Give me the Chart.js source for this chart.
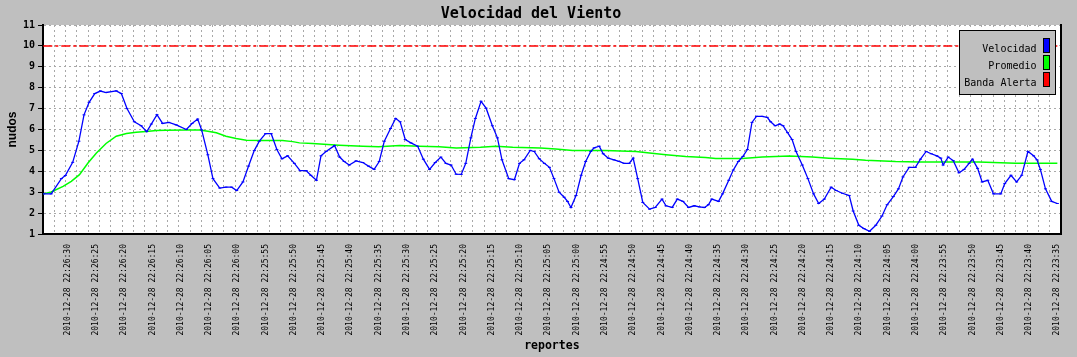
<!DOCTYPE html>
<html>
<head>
<meta charset="utf-8">
<script src="https://cdn.jsdelivr.net/npm/chart.js@4.4.1/dist/chart.umd.min.js"></script>
<style>
  html, body { margin: 0; padding: 0; background: #bfbfbf; }
  canvas { display: block; }
</style>
</head>
<body>
<canvas id="c" width="1077" height="357"></canvas>
<script>
// ---- data ----
const chartTitle = 'Velocidad del Viento';
const yTitle = 'nudos';
const xTitle = 'reportes';
const seriesNames = ['Velocidad', 'Promedio', 'Banda Alerta'];

// tick labels (report times) and their offsets in seconds from the first label
const tickLabels = [
  '2010-12-28 22:26:30','2010-12-28 22:26:25','2010-12-28 22:26:20','2010-12-28 22:26:15',
  '2010-12-28 22:26:10','2010-12-28 22:26:05','2010-12-28 22:26:00','2010-12-28 22:25:55',
  '2010-12-28 22:25:50','2010-12-28 22:25:45','2010-12-28 22:25:40','2010-12-28 22:25:35',
  '2010-12-28 22:25:30','2010-12-28 22:25:25','2010-12-28 22:25:20','2010-12-28 22:25:15',
  '2010-12-28 22:25:10','2010-12-28 22:25:05','2010-12-28 22:25:00','2010-12-28 22:24:55',
  '2010-12-28 22:24:50','2010-12-28 22:24:45','2010-12-28 22:24:40','2010-12-28 22:24:35',
  '2010-12-28 22:24:30','2010-12-28 22:24:25','2010-12-28 22:24:20','2010-12-28 22:24:15',
  '2010-12-28 22:24:10','2010-12-28 22:24:05','2010-12-28 22:24:00','2010-12-28 22:23:55',
  '2010-12-28 22:23:50','2010-12-28 22:23:45','2010-12-28 22:23:40','2010-12-28 22:23:35'
];
const tickSeconds = [0,5,10,15,20,25,30,35,40,45,50,55,60,65,70,75,80,85,90,95,
  100,105,110,115,120,125,130,135,140,145,150,155,160,165,170,175];

// Velocidad: elapsed seconds and knots
const velTime = [-4.3,-2.9,-1.1,-0.4,0.9,2.0,2.9,3.8,4.8,5.8,6.8,8.6,9.5,10.5,11.8,13.0,14.0,14.8,15.8,16.8,
  17.9,19.2,21.0,22.0,23.0,23.7,24.8,25.7,26.9,28.0,29.0,29.9,31.0,32.0,33.0,33.9,35.0,36.0,37.0,37.9,
  38.9,40.1,41.1,42.2,43.0,44.0,44.8,45.7,47.2,48.1,48.9,49.8,51.0,52.2,53.2,54.2,55.1,56.0,57.1,58.0,
  58.8,59.7,60.7,61.9,62.9,64.0,65.0,66.0,66.9,67.8,68.7,69.6,70.4,71.3,72.1,73.1,74.0,75.1,76.0,76.8,
  78.0,79.0,79.9,80.7,81.8,82.5,83.4,84.3,85.2,86.0,86.9,87.8,88.4,89.0,89.9,90.8,91.6,92.5,93.1,94.0,
  94.7,95.6,96.6,97.5,98.4,99.3,100.0,100.8,101.7,102.9,103.9,105.1,105.8,106.9,107.8,108.8,109.8,110.8,111.7,112.6,
  113.3,113.9,115.1,115.8,116.9,117.7,118.6,119.4,120.2,121.0,121.8,122.8,123.7,124.3,125.1,125.9,126.5,127.3,128.1,128.8,
  129.9,130.9,131.9,132.8,133.8,135.0,135.9,137.0,138.2,138.9,139.9,140.8,141.8,142.9,144.0,144.9,146.0,146.9,147.7,148.8,
  149.9,150.8,151.8,152.7,153.7,154.4,154.8,155.7,156.6,157.6,158.5,159.4,160.0,160.9,161.7,162.7,163.7,165.0,165.7,166.8,
  167.8,168.7,169.8,170.8,171.4,172.0,172.9,174.0,175.0];
const velValues = [2.92,2.92,3.65,3.8,4.43,5.44,6.7,7.3,7.72,7.84,7.77,7.85,7.72,7.0,6.37,6.18,5.9,6.26,6.71,6.29,
  6.34,6.22,6.0,6.29,6.5,5.98,4.79,3.65,3.2,3.24,3.24,3.08,3.49,4.25,4.99,5.44,5.8,5.8,5.04,4.6,
  4.74,4.38,4.03,4.03,3.81,3.57,4.74,4.95,5.23,4.68,4.47,4.3,4.5,4.42,4.25,4.09,4.47,5.44,6.05,6.53,
  6.37,5.52,5.36,5.2,4.58,4.09,4.42,4.68,4.38,4.3,3.86,3.85,4.38,5.6,6.53,7.35,7.02,6.18,5.6,4.55,
  3.65,3.6,4.38,4.55,5.0,4.95,4.6,4.38,4.19,3.65,3.0,2.76,2.56,2.27,2.84,3.81,4.47,4.95,5.12,5.2,
  4.84,4.63,4.55,4.47,4.38,4.38,4.63,3.65,2.51,2.19,2.27,2.67,2.35,2.27,2.67,2.56,2.27,2.35,2.3,2.27,
  2.4,2.67,2.56,2.92,3.57,4.06,4.47,4.71,5.04,6.34,6.63,6.63,6.58,6.37,6.18,6.26,6.18,5.85,5.52,4.95,
  4.3,3.65,2.92,2.46,2.67,3.24,3.08,2.95,2.84,2.1,1.42,1.26,1.13,1.42,1.86,2.4,2.79,3.16,3.73,4.19,
  4.19,4.58,4.95,4.84,4.74,4.63,4.3,4.68,4.51,3.93,4.09,4.38,4.58,4.14,3.49,3.57,2.92,2.92,3.41,3.81,
  3.49,3.81,4.95,4.74,4.55,4.09,3.16,2.56,2.46];

// Promedio: elapsed seconds and knots
const avgTime = [-4.3,-2.9,-0.8,0.65,2.1,3.6,5.1,6.8,8.6,10.4,12.1,13.9,15.7,17.4,21.0,23.3,24.8,26.3,28.0,29.8,
  31.6,34.5,38.0,39.8,41.0,43.3,48.0,52.2,55.0,58.7,62.2,65.7,68.7,73.0,75.7,78.7,83.6,86.3,89.3,95.0,
  100.5,102.9,105.8,109.3,112.8,114.6,119.3,122.8,127.6,131.7,134.6,138.8,141.1,146.4,150.5,161.1,167.6,175.0];
const avgValues = [2.92,3.01,3.28,3.52,3.84,4.4,4.88,5.33,5.68,5.81,5.87,5.9,5.95,5.97,5.98,5.98,5.92,5.84,5.68,5.57,
  5.49,5.47,5.47,5.42,5.36,5.33,5.25,5.2,5.17,5.23,5.2,5.17,5.12,5.15,5.2,5.15,5.12,5.07,4.99,4.99,
  4.95,4.87,4.79,4.71,4.66,4.61,4.61,4.68,4.73,4.68,4.63,4.58,4.53,4.47,4.45,4.45,4.38,4.38];

// Banda Alerta: constant alert level in knots
const alertLevel = 10;

const yMin = 1, yMax = 11;

// ---- chart ----
const MONO = "'DejaVu Sans Mono', monospace";
const GRID = '#a8a8a8';

const chartAreaBg = {
  id: 'chartAreaBg',
  beforeDraw(chart) {
    const {ctx, chartArea: a} = chart;
    ctx.save();
    ctx.fillStyle = '#ffffff';
    ctx.fillRect(a.left, a.top, a.right - a.left, a.bottom - a.top);
    ctx.restore();
  }
};

const boxLegend = {
  id: 'boxLegend',
  afterDraw(chart) {
    const {ctx, chartArea: a} = chart;
    const w = 96, h = 64;
    const x = Math.round(a.right - 4.5 - w) - 0.5;
    const y = Math.round(a.top + 5) + 0.5;
    ctx.save();
    ctx.fillStyle = '#bfbfbf';
    ctx.fillRect(x, y, w, h);
    ctx.strokeStyle = '#000';
    ctx.lineWidth = 1;
    ctx.strokeRect(x, y, w, h);
    ctx.font = '10px ' + MONO;
    ctx.textAlign = 'right';
    ctx.textBaseline = 'alphabetic';
    chart.data.datasets.forEach((ds, i) => {
      const cy = y + 15 + i * 17;
      ctx.fillStyle = '#000';
      ctx.fillText(ds.label, x + w - 19, cy + 6);
      ctx.fillStyle = ds.borderColor;
      ctx.fillRect(x + w - 12, cy - 7, 6, 14);
      ctx.strokeRect(x + w - 12, cy - 7, 6, 14);
    });
    ctx.restore();
  }
};

const xMin = -4.35, xMax = 175.6;

new Chart(document.getElementById('c'), {
  type: 'line',
  data: {
    datasets: [
      {
        label: seriesNames[0],
        data: velTime.map((t, i) => ({x: t, y: velValues[i]})),
        borderColor: '#0000ff',
        backgroundColor: '#0000ff',
        borderWidth: 1.3,
        pointStyle: 'line',
        pointRadius: 1.5,
        pointBorderWidth: 1,
        pointBorderColor: '#0000ff',
        tension: 0
      },
      {
        label: seriesNames[1],
        data: avgTime.map((t, i) => ({x: t, y: avgValues[i]})),
        borderColor: '#00ff00',
        backgroundColor: '#00ff00',
        borderWidth: 1.5,
        pointRadius: 0,
        tension: 0
      },
      {
        label: seriesNames[2],
        data: [{x: velTime[0], y: alertLevel}, {x: velTime[velTime.length - 1], y: alertLevel}],
        borderColor: '#ff0000',
        backgroundColor: '#ff0000',
        borderWidth: 1.5,
        borderDash: [9, 3, 3, 3],
        pointRadius: 0,
        tension: 0
      }
    ]
  },
  options: {
    responsive: false,
    animation: false,
    devicePixelRatio: 1,
    layout: { padding: { left: 0, right: 15, top: 0, bottom: 0 } },
    plugins: {
      legend: { display: false },
      tooltip: { enabled: false },
      title: {
        display: true,
        text: chartTitle,
        color: '#000',
        font: { family: MONO, size: 15, weight: 'bold' },
        padding: { top: 5, bottom: 2 }
      }
    },
    scales: {
      x: {
        type: 'linear',
        position: 'bottom',
        min: xMin,
        max: xMax,
        afterBuildTicks(scale) { scale.ticks = tickSeconds.map(v => ({value: v})); },
        afterFit(scale) { scale.height = 123; },
        ticks: {
          autoSkip: false,
          maxRotation: 90,
          minRotation: 90,
          padding: 10,
          color: '#000',
          font: { family: MONO, size: 8 },
          callback: (v, i) => tickLabels[i]
        },
        grid: { display: false, drawTicks: false },
        border: { display: true, color: '#000', width: 2 },
        title: {
          display: true,
          text: xTitle,
          color: '#000',
          font: { family: MONO, size: 11.5, weight: 'bold' },
          padding: { top: 0, bottom: 4 }
        }
      },
      xg: {
        type: 'linear',
        position: 'bottom',
        min: xMin,
        max: xMax,
        afterBuildTicks(scale) {
          const t = [];
          for (let v = scale.min + 2; v < scale.max - 0.5; v += 2) t.push({value: v});
          scale.ticks = t;
        },
        afterFit(scale) { scale.height = 0; },
        ticks: { display: false },
        grid: { display: true, color: GRID, drawTicks: false, lineWidth: 1 },
        border: { display: false, dash: [2, 3] }
      },
      y: {
        type: 'linear',
        position: 'left',
        min: yMin,
        max: yMax,
        afterFit(scale) { scale.width = 43; },
        ticks: {
          stepSize: 1,
          padding: 3,
          color: '#000',
          font: { family: MONO, size: 10, weight: 'bold' }
        },
        grid: {
          display: true,
          color: GRID,
          drawTicks: true,
          tickLength: 5,
          tickColor: '#000',
          tickBorderDash: [],
          lineWidth: 1
        },
        border: { display: true, color: '#000', width: 2, dash: [2, 3] },
        title: {
          display: true,
          text: yTitle,
          color: '#000',
          font: { family: "'Liberation Sans', Arial, sans-serif", size: 12, weight: 'bold' },
          padding: { top: 5, bottom: 0 }
        }
      },
      yR: {
        type: 'linear',
        position: 'right',
        min: yMin,
        max: yMax,
        afterFit(scale) { scale.width = 0; },
        ticks: { display: false },
        grid: { display: false, drawTicks: false },
        border: { display: true, color: '#000', width: 2 }
      }
    }
  },
  plugins: [chartAreaBg, boxLegend]
});
</script>
</body>
</html>
